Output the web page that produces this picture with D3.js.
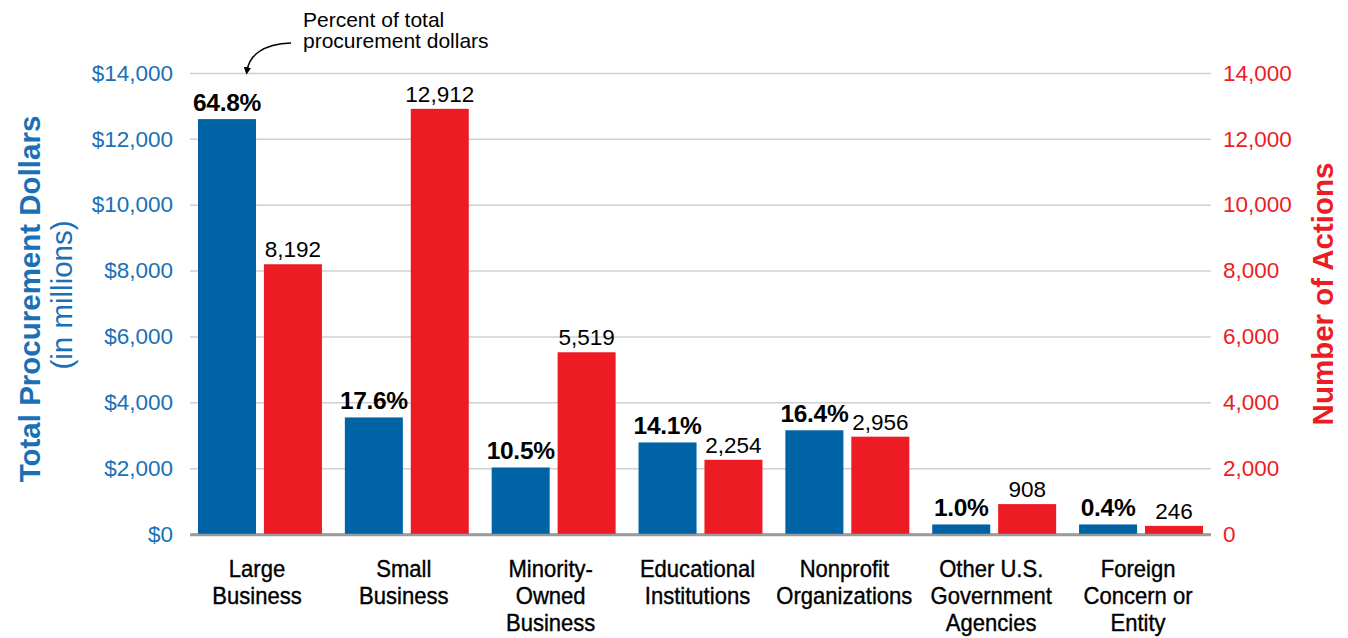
<!DOCTYPE html>
<html>
<head>
<meta charset="utf-8">
<script src="https://cdn.jsdelivr.net/npm/d3@7"></script>
<style>
  body { margin: 0; background: #fff; }
  svg { display: block; font-family: "Liberation Sans", Arial, Helvetica, sans-serif; }
</style>
</head>
<body>
<div id="chart"></div>
<script>
// chart data
const categories = [
  ["Large", "Business"],
  ["Small", "Business"],
  ["Minority-", "Owned", "Business"],
  ["Educational", "Institutions"],
  ["Nonprofit", "Organizations"],
  ["Other U.S.", "Government", "Agencies"],
  ["Foreign", "Concern or", "Entity"]
];
const dollars = [12600, 3540, 2020, 2780, 3150, 290, 290];   // $ millions
const percents = ["64.8%", "17.6%", "10.5%", "14.1%", "16.4%", "1.0%", "0.4%"];
const actions = [8192, 12912, 5519, 2254, 2956, 908, 246];
const tickValues = [0, 2000, 4000, 6000, 8000, 10000, 12000, 14000];

const width = 1348, height = 638;
const blue = "#0063a6", red = "#ed1c24";
const blueText = "#1a6fb5";

const svg = d3.select("#chart")
  .append("svg")
  .attr("width", width)
  .attr("height", height);

// scales
const yL = d3.scaleLinear().domain([0, 14000]).range([534, 73]);
const yR = d3.scaleLinear().domain([0, 14000]).range([534, 73]);
const x = d3.scaleBand()
  .domain(d3.range(categories.length))
  .range([198, 1203])
  .paddingInner(0.156)
  .paddingOuter(0);
const sub = d3.scaleBand()
  .domain(["d", "a"])
  .range([0, x.bandwidth()])
  .paddingInner(0.12);

const gridLeft = 190, gridRight = 1211;

// left axis with gridlines
const leftAxis = svg.append("g")
  .attr("transform", `translate(${gridLeft},0)`)
  .call(d3.axisLeft(yL)
    .tickValues(tickValues)
    .tickSize(-(gridRight - gridLeft))
    .tickPadding(17)
    .tickFormat(d => "$" + d3.format(",")(d)));
leftAxis.select(".domain").remove();
leftAxis.selectAll(".tick line")
  .attr("stroke", d => d === 0 ? "#9a9a9a" : "#d0d0d0")
  .attr("stroke-width", d => d === 0 ? 2.5 : 1.5);
leftAxis.selectAll(".tick text")
  .attr("fill", blueText)
  .attr("font-size", 22.5)
  .attr("font-family", "'Liberation Sans', Arial, sans-serif");

// right axis
const rightAxis = svg.append("g")
  .attr("transform", `translate(${gridRight},0)`)
  .call(d3.axisRight(yR)
    .tickValues(tickValues)
    .tickSize(0)
    .tickPadding(12)
    .tickFormat(d3.format(",")));
rightAxis.select(".domain").remove();
rightAxis.selectAll(".tick text")
  .attr("fill", red)
  .attr("font-size", 22.5)
  .attr("font-family", "'Liberation Sans', Arial, sans-serif");

// bars
const groups = svg.append("g")
  .selectAll("g")
  .data(categories)
  .join("g")
  .attr("transform", (d, i) => `translate(${x(i)},0)`);

groups.append("rect")
  .attr("x", sub("d"))
  .attr("width", sub.bandwidth())
  .attr("y", (d, i) => yL(dollars[i]))
  .attr("height", (d, i) => yL(0) - yL(dollars[i]))
  .attr("fill", blue);

groups.append("rect")
  .attr("x", sub("a"))
  .attr("width", sub.bandwidth())
  .attr("y", (d, i) => yR(actions[i]))
  .attr("height", (d, i) => yR(0) - yR(actions[i]))
  .attr("fill", red);

// value labels
groups.append("text")
  .attr("x", sub("d") + sub.bandwidth() / 2)
  .attr("y", (d, i) => yL(dollars[i]) - 8)
  .attr("text-anchor", "middle")
  .attr("font-size", 24.5)
  .attr("font-weight", "bold")
  .attr("fill", "#000")
  .attr("letter-spacing", -0.3)
  .text((d, i) => percents[i]);

groups.append("text")
  .attr("x", sub("a") + sub.bandwidth() / 2)
  .attr("y", (d, i) => yR(actions[i]) - 7)
  .attr("text-anchor", "middle")
  .attr("font-size", 22.5)
  .attr("fill", "#000")
  .text((d, i) => d3.format(",")(actions[i]));

// redraw baseline on top of bars
svg.append("line")
  .attr("x1", gridLeft).attr("x2", gridRight)
  .attr("y1", yL(0) + 1).attr("y2", yL(0) + 1)
  .attr("stroke", "#9a9a9a")
  .attr("stroke-width", 2.5);

// category labels (condensed look via horizontal squeeze)
groups.append("g")
  .attr("transform", `translate(${x.bandwidth() / 2 - 3},0) scale(0.9,1)`)
  .append("text")
  .attr("font-size", 24.5)
  .attr("text-anchor", "middle")
  .attr("fill", "#000")
  .attr("stroke", "#000")
  .attr("stroke-width", 0.4)
  .selectAll("tspan")
  .data(d => d)
  .join("tspan")
  .attr("x", 0)
  .attr("y", (d, j) => 577 + j * 27)
  .text(d => d);

// axis titles
svg.append("text")
  .attr("transform", "translate(40,299) rotate(-90)")
  .attr("text-anchor", "middle")
  .attr("font-size", 29.5)
  .attr("font-weight", "bold")
  .attr("fill", blueText)
  .text("Total Procurement Dollars");

svg.append("text")
  .attr("transform", "translate(72,295) rotate(-90)")
  .attr("text-anchor", "middle")
  .attr("font-size", 29.5)
  .attr("fill", blueText)
  .text("(in millions)");

svg.append("text")
  .attr("transform", "translate(1333,294) rotate(-90)")
  .attr("text-anchor", "middle")
  .attr("font-size", 29.5)
  .attr("font-weight", "bold")
  .attr("fill", red)
  .text("Number of Actions");

// annotation
const note = svg.append("text")
  .attr("font-size", 21)
  .attr("fill", "#000");
note.append("tspan").attr("x", 303).attr("y", 27).text("Percent of total");
note.append("tspan").attr("x", 303).attr("y", 48).text("procurement dollars");

svg.append("defs").append("marker")
  .attr("id", "arrow")
  .attr("viewBox", "0 0 10 10")
  .attr("refX", 5).attr("refY", 5)
  .attr("markerWidth", 5).attr("markerHeight", 5)
  .attr("orient", "auto")
  .append("path")
  .attr("d", "M0,0 L10,5 L0,10 Z")
  .attr("fill", "#000");

svg.append("path")
  .attr("d", "M291,43 C262,44 249,56 247,71")
  .attr("fill", "none")
  .attr("stroke", "#000")
  .attr("stroke-width", 1.5)
  .attr("marker-end", "url(#arrow)");
</script>
</body>
</html>
